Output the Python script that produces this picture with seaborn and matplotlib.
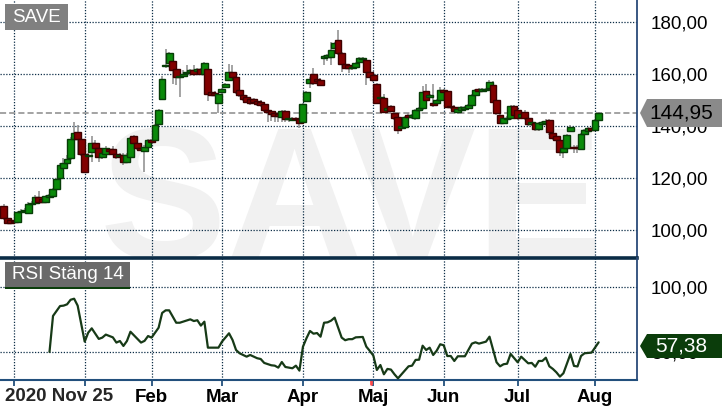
import numpy as np
import pandas as pd
import seaborn as sns
import matplotlib.pyplot as plt
from matplotlib.patches import Rectangle, Polygon

# daily candles, 2020-11-25 .. 2021-08-02
opens = [109.3, 104.8, 104.0, 103.6, 103.1, 107.0, 107.3, 106.6, 110.1, 110.6,
         112.7, 112.0, 111.0, 112.9, 113.2, 115.9, 120.0, 124.1, 125.8, 127.7,
         135.0, 137.7, 135.0, 129.2, 128.6, 130.3, 133.5, 131.5, 128.1, 129.4,
         131.3, 131.2, 129.4, 128.6, 129.0, 126.4, 128.3, 136.3, 133.5, 131.5,
         130.6, 132.2, 134.8, 134.8, 141.0, 150.4, 163.2, 164.2, 165.0, 161.9,
         158.8, 159.5, 160.6, 161.0, 161.7, 161.2, 161.9, 160.0, 161.9, 153.1,
         152.9, 148.8, 153.1, 155.0, 157.8, 160.8, 158.8, 153.9, 152.0, 151.4,
         150.4, 150.5, 149.8, 149.5, 148.5, 146.3, 145.9, 145.0, 144.6, 143.4,
         145.9, 142.7, 142.6, 143.1, 142.8, 141.8, 149.8, 156.5, 160.0, 158.2,
         157.8, 166.1, 166.8, 166.8, 170.2, 173.2, 168.1, 163.8, 163.6, 162.3,
         162.9, 164.6, 165.8, 165.5, 161.0, 159.7, 156.1, 151.0, 151.0, 146.3,
         147.8, 145.0, 143.4, 139.3, 139.9, 144.4, 143.4, 143.1, 146.3, 146.9,
         153.6, 151.4, 148.8, 148.8, 150.2, 153.9, 153.6, 148.0, 147.6, 145.4,
         146.3, 146.7, 146.9, 148.2, 152.0, 154.2, 153.6, 154.0, 154.6, 156.0,
         150.1, 144.4, 141.4, 142.8, 143.1, 147.8, 146.3, 143.6, 145.6, 143.3,
         140.8, 141.2, 138.8, 141.0, 141.2, 142.4, 137.3, 136.1, 134.8, 130.3,
         131.6, 138.2, 132.2, 132.2, 131.2, 137.0, 138.2, 139.2, 138.7, 142.4]
closes = [104.6, 103.0, 103.0, 103.1, 107.2, 107.5, 107.8, 110.1, 110.6, 112.9,
          111.0, 111.0, 113.2, 113.5, 115.7, 119.7, 125.1, 125.8, 127.3, 135.0,
          137.5, 135.0, 129.2, 122.6, 129.0, 133.5, 131.5, 128.1, 129.6, 131.5,
          130.6, 129.4, 128.1, 129.0, 126.4, 129.0, 135.4, 133.5, 131.5, 130.9,
          132.2, 134.8, 134.1, 140.5, 146.3, 158.2, 163.6, 168.1, 161.7, 159.1,
          159.5, 160.3, 161.0, 161.7, 160.0, 161.9, 160.1, 164.2, 152.3, 152.0,
          152.0, 152.3, 154.2, 156.3, 160.8, 158.8, 153.1, 152.0, 150.4, 149.5,
          149.1, 149.2, 148.5, 148.2, 146.3, 145.4, 144.6, 144.1, 143.8, 145.9,
          142.8, 143.1, 143.0, 142.7, 141.2, 148.6, 153.1, 158.1, 156.5, 157.6,
          155.9, 167.0, 167.5, 169.3, 171.9, 168.1, 163.8, 162.5, 162.5, 163.0,
          164.2, 166.1, 166.3, 161.0, 159.1, 157.8, 148.8, 151.4, 145.4, 147.0,
          145.9, 143.1, 138.6, 140.3, 143.4, 143.5, 144.2, 146.3, 146.9, 153.3,
          150.1, 152.0, 148.2, 150.1, 153.9, 153.3, 147.6, 147.3, 145.9, 146.7,
          147.3, 147.3, 148.2, 152.0, 153.9, 153.6, 154.4, 154.4, 156.9, 149.5,
          145.0, 141.4, 143.1, 143.3, 147.8, 144.4, 143.1, 144.6, 143.1, 140.8,
          141.6, 138.8, 141.2, 141.6, 142.2, 137.8, 135.4, 134.8, 130.3, 131.6,
          136.7, 139.9, 131.6, 131.6, 137.0, 138.6, 139.2, 138.7, 142.4, 144.95]
highs = [110.0, 105.5, 104.5, 104.0, 107.6, 108.2, 108.5, 110.8, 111.2, 113.4,
         115.2, 112.6, 113.6, 114.0, 116.2, 120.3, 125.8, 127.8, 129.0, 135.8,
         141.8, 140.6, 135.6, 129.8, 129.6, 136.3, 134.8, 132.0, 130.4, 132.6,
         131.8, 132.6, 130.0, 129.6, 129.6, 129.6, 136.0, 136.8, 134.0, 132.0,
         132.8, 135.2, 135.3, 141.0, 146.8, 159.2, 169.6, 168.6, 165.5, 162.4,
         160.0, 161.6, 163.4, 162.2, 163.5, 162.5, 162.4, 164.9, 162.4, 153.6,
         153.4, 152.8, 154.8, 156.8, 164.0, 163.6, 159.3, 154.4, 152.5, 151.9,
         150.8, 151.0, 150.3, 150.0, 149.0, 146.8, 146.4, 145.6, 145.0, 146.4,
         146.2, 143.6, 143.5, 143.6, 143.2, 149.0, 153.6, 158.8, 162.3, 158.7,
         158.4, 167.6, 168.0, 172.5, 172.6, 177.0, 168.6, 164.3, 164.0, 163.6,
         164.8, 166.6, 166.8, 166.0, 161.5, 160.2, 156.6, 152.0, 152.3, 147.5,
         148.3, 145.5, 143.9, 140.8, 143.9, 145.0, 144.7, 146.8, 147.4, 155.4,
         156.3, 152.5, 156.3, 150.6, 155.2, 154.4, 154.1, 148.5, 148.1, 147.2,
         147.8, 147.8, 148.7, 152.5, 154.4, 154.7, 154.9, 154.9, 157.8, 157.4,
         150.6, 144.9, 143.6, 143.8, 148.3, 148.3, 146.8, 145.1, 146.1, 143.8,
         142.1, 141.7, 141.7, 142.1, 142.7, 142.9, 137.8, 136.6, 135.3, 132.1,
         137.2, 140.4, 132.7, 132.7, 137.5, 139.1, 139.7, 139.7, 142.9, 145.6]
lows = [104.0, 102.5, 102.6, 102.8, 102.8, 106.6, 106.8, 106.3, 109.8, 110.2,
        110.6, 110.5, 110.8, 112.5, 113.0, 115.5, 119.6, 123.8, 125.4, 127.2,
        134.5, 129.0, 128.6, 122.2, 128.0, 126.4, 131.0, 126.4, 127.6, 129.0,
        130.0, 128.8, 127.6, 128.2, 125.2, 126.0, 127.8, 133.0, 131.0, 130.4,
        122.4, 131.8, 133.6, 134.4, 140.6, 150.0, 162.6, 163.8, 156.3, 155.9,
        151.4, 159.0, 160.2, 159.2, 159.5, 160.8, 159.6, 159.6, 149.9, 151.5,
        151.6, 145.0, 152.6, 154.6, 157.4, 158.3, 152.6, 151.2, 149.6, 148.9,
        148.2, 148.6, 147.8, 147.6, 145.6, 141.8, 142.0, 141.6, 141.8, 141.6,
        141.6, 141.8, 142.0, 142.2, 139.2, 141.4, 149.2, 154.8, 156.0, 156.4,
        155.4, 163.5, 165.0, 163.6, 169.6, 167.6, 161.0, 162.0, 160.5, 161.8,
        162.4, 164.0, 165.2, 155.9, 158.6, 157.2, 148.4, 150.5, 145.0, 145.8,
        145.4, 142.6, 137.1, 138.8, 139.4, 142.9, 142.9, 142.6, 145.8, 146.4,
        149.6, 150.9, 147.6, 148.3, 149.7, 152.8, 147.1, 146.8, 145.4, 144.9,
        145.8, 146.2, 146.4, 147.7, 151.5, 153.0, 153.1, 153.5, 154.1, 149.0,
        144.5, 140.9, 140.9, 142.3, 142.6, 143.9, 142.6, 143.1, 142.6, 140.3,
        140.3, 138.3, 138.3, 140.5, 140.7, 136.5, 134.9, 134.3, 128.4, 128.0,
        131.1, 137.7, 129.7, 129.7, 130.7, 136.5, 137.7, 138.2, 138.2, 141.9]

rsi_day = [13, 14, 15, 16, 17, 18, 19, 20, 21, 23, 24, 25, 27, 28, 29, 31, 32, 33,
           34, 35, 36, 38, 39, 40, 41, 42, 44, 45, 46, 47, 49, 50, 53, 54, 55, 56,
           57, 58, 61, 62, 64, 65, 66, 67, 69, 70, 72, 73, 74, 76, 77, 78, 79, 80,
           81, 82, 83, 84, 85, 86, 87, 88, 89, 90, 91, 92, 93, 94, 96, 97, 98, 99,
           100, 102, 103, 104, 105, 106, 107, 108, 109, 110, 111, 112, 113, 115,
           116, 117, 118, 119, 120, 121, 122, 123, 124, 125, 126, 127, 128, 129,
           131, 132, 133, 134, 135, 137, 138, 140, 141, 142, 143, 144, 146, 147,
           149, 150, 151, 152, 153, 154, 155, 156, 157, 158, 159, 161, 162, 163,
           164, 165, 167, 169]
rsi_val = [50, 77.6, 81.4, 85.2, 85.5, 86.5, 90, 90.8, 85.5, 57.9, 64.8, 68.1, 60,
           61, 63.3, 61.2, 57.2, 58.4, 54.6, 58.4, 65.5, 60, 57.2, 58.5, 62.2, 61,
           68.6, 79.9, 81.9, 81.9, 72.4, 72.4, 75, 73.7, 74.3, 70.2, 73.2, 53.3,
           53.3, 57.9, 64.3, 59.2, 51.5, 49, 46.4, 47.7, 45.2, 44.6, 41.6, 39.8,
           39.5, 38, 42.3, 38.5, 38, 37.5, 39.5, 35.7, 54, 60.5, 66.1, 64, 64.5,
           61.7, 72.4, 72.7, 74, 76.3, 61, 59, 59.8, 59.8, 61.2, 61.5, 54.1, 50.8,
           47.2, 36.2, 40, 32.9, 37, 36.5, 32.9, 29.8, 32.9, 39, 39.5, 43.9, 44.1,
           54.8, 51.5, 53.3, 47.7, 51, 55.9, 55.1, 46.9, 46.9, 43.1, 46.7, 46.7,
           51.5, 56.4, 57.4, 56.4, 57.9, 61.7, 42.1, 39, 40.6, 41, 48.5, 42.1,
           46.4, 41.3, 41.6, 38.7, 43.1, 43.1, 45.6, 39, 37, 34.4, 31.1, 33.7,
           48.5, 39.3, 38.9, 46.9, 49, 49.5, 57.38]

month_ticks = [4, 24, 43, 63, 86, 106, 126, 147, 169]
month_labels = ['', '', 'Feb', 'Mar', 'Apr', 'Maj', 'Jun', 'Jul', 'Aug']
price_ticks = [100, 120, 140, 160, 180]
rsi_ticks = [50, 100]
last_price = 144.95
last_rsi = 57.38
ticker = 'SAVE'

W, H = 722, 411


def fx(x):
    return x / W


def fy(y):
    return 1 - y / H


sns.set_style('white')
plt.rcParams['font.family'] = ['Liberation Sans', 'DejaVu Sans']

fig = plt.figure(figsize=(W / 100, H / 100), dpi=100)
ax = fig.add_axes([0, fy(258), fx(637), 258 / H])
ax2 = fig.add_axes([0, fy(379.5), fx(637), 121.5 / H])

navy = '#0b2c46'
grid_kw = dict(color='#0b2c46', linestyle=(0, (1, 1.3)), linewidth=0.9)

# watermark
ax.text(0.551, -0.004, ticker, transform=ax.transAxes, ha='center', va='baseline',
        fontsize=137, fontweight='bold', color='#f1f1f1', zorder=0, clip_on=True)

for a in (ax, ax2):
    for t in month_ticks:
        a.axvline(t, zorder=1, **grid_kw)
for p in price_ticks:
    ax.axhline(p, zorder=1, **grid_kw)
for r in rsi_ticks:
    ax2.axhline(r, zorder=1, **grid_kw)

ax.axhline(last_price, color='#8a8a8a', linestyle=(0, (4, 2)), linewidth=1.1, zorder=1.5)

# candles
o = np.array(opens)
c = np.array(closes)
days = np.arange(len(o))
up = c >= o
face = np.where(up, '#0a8a0a', '#820000')
edge = np.where(up, '#073d07', '#3e0000')
ax.vlines(days + 0.975, lows, highs, color='#8c8c8c', linewidth=1.1, zorder=2)
body = np.where(np.abs(c - o) < 0.3, 0.3, c - o)
ax.bar(days, body, bottom=o, width=1.95, align='edge', color=face,
       edgecolor=edge, linewidth=1.0, zorder=3)

# RSI
rsi_df = pd.DataFrame({'day': np.array(rsi_day) + 1, 'rsi': rsi_val})
sns.lineplot(data=rsi_df, x='day', y='rsi', ax=ax2, color='#173a17', linewidth=1.6,
             zorder=3)

ax.set_xlim(-0.06, 180.9)
ax2.set_xlim(-0.06, 180.9)
ax.set_ylim(89.35, 188.58)
ax2.set_ylim(28.9, 122)

for a in (ax, ax2):
    a.set_facecolor('none')
    a.set_xlabel('')
    a.set_ylabel('')
    a.spines['top'].set_visible(False)
    a.spines['left'].set_visible(False)
    a.spines['right'].set_color('#2a4a78')
    a.spines['right'].set_linewidth(1.3)
    a.yaxis.tick_right()

ax.spines['bottom'].set_color(navy)
ax.spines['bottom'].set_linewidth(2.6)
ax.spines['bottom'].set_zorder(5)
ax2.spines['bottom'].set_color('#224f7c')
ax2.spines['bottom'].set_linewidth(1.5)

ax.set_yticks(price_ticks)
ax.set_yticklabels([f'{p:.2f}'.replace('.', ',') for p in price_ticks])
ax2.set_yticks(rsi_ticks)
ax2.set_yticklabels([f'{r:.2f}'.replace('.', ',') for r in rsi_ticks])
for a in (ax, ax2):
    a.tick_params(axis='y', length=0, pad=10, labelsize=13.5, labelcolor='black')

ax.set_xticks(month_ticks)
ax.tick_params(axis='x', length=0, labelbottom=False)
ax2.set_xticks(month_ticks)
ax2.set_xticklabels(month_labels, fontweight='bold')
ax2.tick_params(axis='x', bottom=True, length=4, width=1.3, color='#224f7c', pad=3,
                labelsize=13.5, labelcolor='black')

fig.text(fx(5), fy(396), '2020 Nov 25', ha='left', va='center', fontsize=13.5,
         fontweight='bold')

# red marker on the axis near May
ax2.plot([105.3, 105.3], [0, -0.04], transform=ax2.get_xaxis_transform(),
         color='#ff4a4a', linewidth=2, clip_on=False)

# name boxes
fig.patches.append(Rectangle((fx(5), fy(30)), fx(63), 26 / H, transform=fig.transFigure,
                             facecolor='#808080', edgecolor='none'))
fig.text(fx(36.5), fy(17), ticker, ha='center', va='center', fontsize=13.5, color='white')

fig.patches.append(Rectangle((fx(5), fy(287)), fx(125), 25 / H, transform=fig.transFigure,
                             facecolor='#6a6a6a', edgecolor='none'))
fig.patches.append(Rectangle((fx(5), fy(288.5)), fx(125), 2 / H, transform=fig.transFigure,
                             facecolor='#0b3d0b', edgecolor='none'))
fig.text(fx(67.5), fy(274.5), 'RSI Stäng 14', ha='center', va='center', fontsize=13.5,
         color='white')

# value tags on the right
def tag(y0, y1, color, text, tcolor):
    ym = (y0 + y1) / 2
    pts = [(fx(640), fy(ym)), (fx(647), fy(y0)), (fx(722), fy(y0)),
           (fx(722), fy(y1)), (fx(647), fy(y1))]
    fig.patches.append(Polygon(pts, closed=True, transform=fig.transFigure,
                               facecolor=color, edgecolor='none', zorder=5))
    fig.text(fx(681), fy(ym), text, ha='center', va='center', fontsize=15,
             color=tcolor, zorder=6)


tag(99, 127, '#8a8a8a', f'{last_price:.2f}'.replace('.', ','), 'black')
tag(334, 358, '#0b3d0b', f'{last_rsi:.2f}'.replace('.', ','), 'white')

fig.savefig('out.png', dpi=100)
